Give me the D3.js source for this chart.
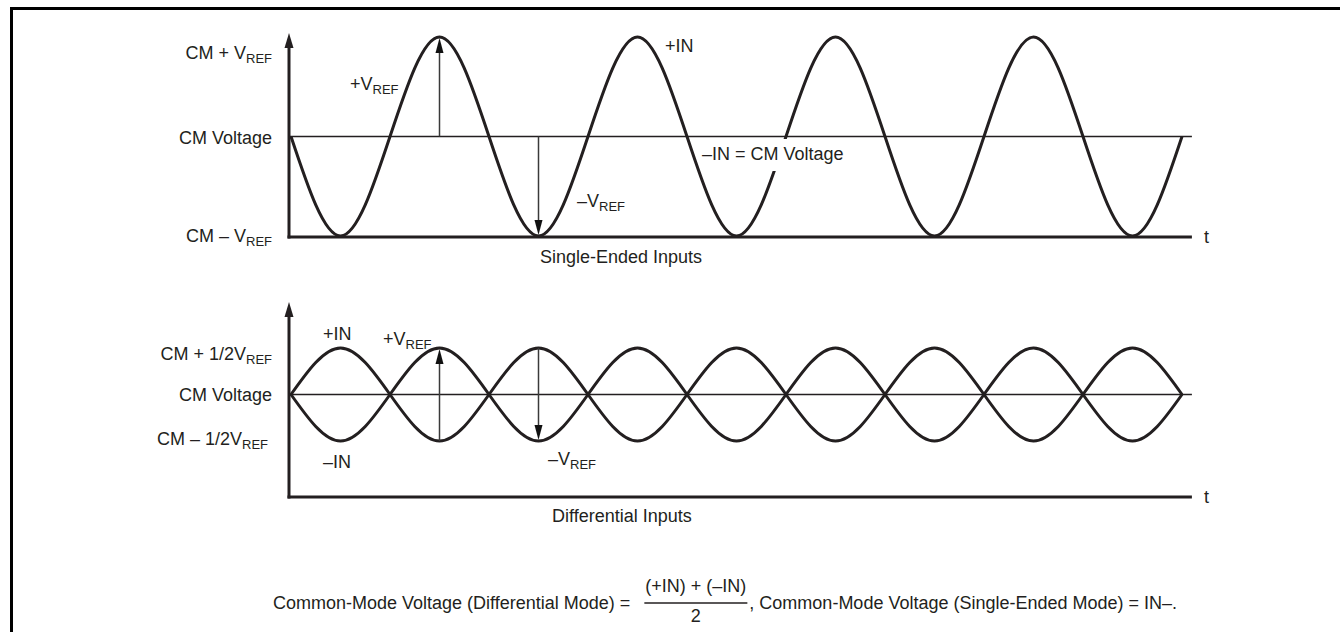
<!DOCTYPE html>
<html><head><meta charset="utf-8">
<script src="https://cdn.jsdelivr.net/npm/d3@7"></script>
<style>
html,body{margin:0;padding:0;background:#fff;}
svg{display:block;}
text{font-family:"Liberation Sans", Arial, Helvetica, sans-serif; fill:#231f20; font-size:18px;}
</style></head><body>
<svg id="chart" width="1340" height="632"></svg>
<script>
// ---- data (quarter-period samples) ----
const quarterSteps = [0,1,2,3,4,5,6,7,8,9,10,11,12,13,14,15,16,17,18];
const singleEndedPlusIN = [0,-1,0,1,0,-1,0,1,0,-1,0,1,0,-1,0,1,0,-1,0];
const differentialPlusIN = [0,0.5,0,-0.5,0,0.5,0,-0.5,0,0.5,0,-0.5,0,0.5,0,-0.5,0,0.5,0];
const differentialMinusIN = [0,-0.5,0,0.5,0,-0.5,0,0.5,0,-0.5,0,0.5,0,-0.5,0,0.5,0,-0.5,0];
const timeAxisEnd = 18.2;
const singleEndedLevels = [1, 0, -1];
const singleEndedLevelMain = ["CM + V", "CM Voltage", "CM \u2013 V"];
const singleEndedLevelSub = ["REF", "", "REF"];
const differentialLevels = [0.5, 0, -0.5];
const differentialLevelMain = ["CM + 1/2V", "CM Voltage", "CM \u2013 1/2V"];
const differentialLevelSub = ["REF", "", "REF"];
const captions = ["Single-Ended Inputs", "Differential Inputs"];

const svg = d3.select("#chart");
const ink = "#231f20";

// frame
svg.append("path").attr("d","M11.5,632V8.5H1340").attr("fill","none").attr("stroke","#000").attr("stroke-width",3);

const x = d3.scaleLinear().domain([0,18]).range([291,1182]);
const axisX = 289;
const yTop = d3.scaleLinear().domain([-1,1]).range([236,37]);
const yBot = d3.scaleLinear().domain([-0.5,0.5]).range([441,348]);

function head(xv, tipY, dir){ // dir = -1 pointing up, +1 pointing down
  const L = 15, W = 4;
  svg.append("path").attr("d",`M${xv-W},${tipY - dir*L} L${xv},${tipY} L${xv+W},${tipY - dir*L} Z`).attr("fill","#111");
}

function panel(yS, baseY, topY, levels, mainL, subL, rightEdges, dys){
  svg.append("line").attr("x1",axisX).attr("x2",x(timeAxisEnd)).attr("y1",yS(0)).attr("y2",yS(0))
    .attr("stroke",ink).attr("stroke-width",1.3);
  svg.append("line").attr("x1",axisX-1.5).attr("x2",x(timeAxisEnd)).attr("y1",baseY).attr("y2",baseY)
    .attr("stroke",ink).attr("stroke-width",3);
  svg.append("line").attr("x1",axisX).attr("x2",axisX).attr("y1",baseY+1.5).attr("y2",topY+12)
    .attr("stroke",ink).attr("stroke-width",3);
  svg.append("path").attr("d",`M${axisX-4.5},${topY+15} L${axisX},${topY} L${axisX+4.5},${topY+15} Z`).attr("fill",ink);
  svg.append("text").attr("x",x(timeAxisEnd)+12).attr("y",baseY+6).text("t");
  levels.forEach((v,i)=>{
    const t = svg.append("text").attr("x",rightEdges[i]).attr("y",yS(v)+dys[i]).attr("text-anchor","end");
    t.append("tspan").text(mainL[i]);
    if(subL[i]) t.append("tspan").attr("dy",4).attr("font-size","13px").text(subL[i]);
  });
}

panel(yTop, 237, 33, singleEndedLevels, singleEndedLevelMain, singleEndedLevelSub, [272,272,272], [22,7,6]);
panel(yBot, 497, 302, differentialLevels, differentialLevelMain, differentialLevelSub, [272,272,268], [12,6,4]);

const lineTop = d3.line().x((d,i)=>x(quarterSteps[i])).y(d=>yTop(d)).curve(d3.curveNatural);
const lineBot = d3.line().x((d,i)=>x(quarterSteps[i])).y(d=>yBot(d)).curve(d3.curveNatural);

svg.append("path").attr("d",lineTop(singleEndedPlusIN)).attr("fill","none").attr("stroke",ink).attr("stroke-width",3);
svg.append("path").attr("d",lineBot(differentialPlusIN)).attr("fill","none").attr("stroke",ink).attr("stroke-width",3);
svg.append("path").attr("d",lineBot(differentialMinusIN)).attr("fill","none").attr("stroke",ink).attr("stroke-width",3);

// annotation arrows
function arrow(xv, y1, y2){
  const dir = y2 < y1 ? -1 : 1;
  svg.append("line").attr("x1",xv).attr("x2",xv).attr("y1",y1).attr("y2",y2 - dir*10)
    .attr("stroke","#3a3a3a").attr("stroke-width",1.5);
  head(xv, y2, dir);
}
arrow(x(3), yTop(0), yTop(1)+1);
arrow(x(5), yTop(0), yTop(-1)-1);
arrow(x(3), yBot(-0.5), yBot(0.5)+1);
arrow(x(5), yBot(0.5), yBot(-0.5)-1);

function subLabel(xp, yp, main, sub){
  const t = svg.append("text").attr("x",xp).attr("y",yp);
  t.append("tspan").text(main);
  if(sub) t.append("tspan").attr("dy",4).attr("font-size","13px").text(sub);
  return t;
}
subLabel(350, 90, "+V", "REF");
subLabel(665, 52, "+IN", "");
subLabel(577, 207, "\u2013V", "REF");

// "-IN = CM Voltage" with a white knock-out behind "CM Voltage"
const minusLabel = "\u2013IN = CM Voltage";
const knock = svg.append("rect").attr("fill","#fff");
const tIn = svg.append("text").attr("x",702).attr("y",160).attr("xml:space","preserve").text(minusLabel);
const startIdx = minusLabel.indexOf("CM");
const ext0 = tIn.node().getExtentOfChar(startIdx);
const fullBox = tIn.node().getBBox();
knock.attr("x",ext0.x-3).attr("y",139).attr("width",fullBox.x+fullBox.width-ext0.x+6).attr("height",32);

subLabel(323, 340, "+IN", "");
subLabel(383, 345, "+V", "REF");
subLabel(323, 468, "\u2013IN", "");
subLabel(548, 465, "\u2013V", "REF");

svg.append("text").attr("x",540).attr("y",263).text(captions[0]);
svg.append("text").attr("x",552).attr("y",522).text(captions[1]);

// formula
const f1 = svg.append("text").attr("x",273).attr("y",609).text("Common-Mode Voltage (Differential Mode) =");
const fw1 = f1.node().getComputedTextLength();
const num = svg.append("text").attr("y",592).attr("text-anchor","middle").text("(+IN) + (\u2013IN)");
const nw = num.node().getComputedTextLength();
const fx0 = 273 + fw1 + 14;
const fcx = fx0 + nw/2 + 1;
num.attr("x", fcx);
svg.append("line").attr("x1",fx0).attr("x2",fx0+nw+2).attr("y1",603).attr("y2",603).attr("stroke",ink).attr("stroke-width",1.3);
svg.append("text").attr("x",fcx).attr("y",622).attr("text-anchor","middle").text("2");
svg.append("text").attr("x",fx0+nw+4).attr("y",609).text(", Common-Mode Voltage (Single-Ended Mode) = IN\u2013.");
</script>
</body></html>
